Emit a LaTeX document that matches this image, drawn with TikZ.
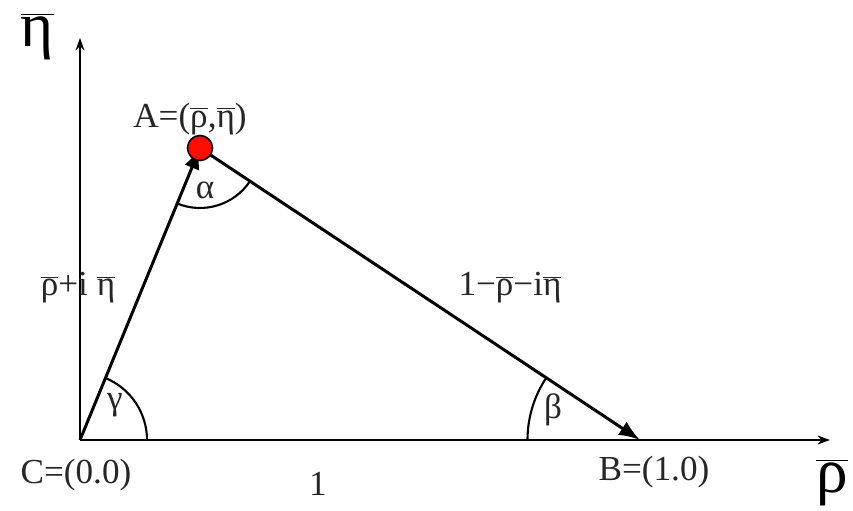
\documentclass[tikz,border=0pt]{standalone}
\usepackage{fontspec}
\setmainfont{Liberation Serif}
\usetikzlibrary{arrows.meta,angles}
\newcommand{\ob}[1]{$\overline{\mbox{#1}}$}

\begin{document}
\begin{tikzpicture}[
    axis/.style={line width=0.85pt, -{Stealth[length=7pt,width=5pt]}},
    side/.style={line width=1.7pt, -{Latex[length=12pt,width=9pt]}},
    lbl/.style={font=\fontsize{20}{22}\selectfont, text=black!85},
    big/.style={font=\fontsize{36}{40}\selectfont},
    arcs/.style={draw, line width=1.2pt}
  ]

\useasboundingbox (-1.6,-1.42) rectangle (15.46,8.8);

\coordinate (C) at (0,0);
\coordinate (A) at (2.4,5.84);
\coordinate (B) at (11.2,0);
\coordinate (xend) at (15.0,0);
\coordinate (yend) at (0,8.04);

\draw[axis] (C) -- (xend);
\draw[axis] (C) -- (yend);

\draw[side] (C) -- (A);
\draw[side] (A) -- (B);
\draw[line width=1.7pt] (C) -- (B);

\pic[arcs, angle radius=1.34cm] {angle = B--C--A};
\pic[arcs, angle radius=2.25cm] {angle = A--B--C};
\pic[arcs, angle radius=1.2cm] {angle = C--A--B};

\node (dot) at (A) [circle, draw, line width=0.9pt, fill=red!90!orange, minimum width=0.44cm, minimum height=0.5cm, inner sep=0pt] {};

\node (alabel) at (2.2,6.42) [lbl] {A=(\ob{ρ},\ob{η})};
\node (clabel) at (-0.08,-0.7) [lbl] {C=(0.0)};
\node (blabel) at (11.48,-0.64) [lbl] {B=(1.0)};
\node (one) at (4.76,-0.88) [lbl] {1};
\node (left) at (-0.04,3.04) [lbl] {\ob{ρ}+i \ob{η}};
\node (right) at (8.6,3.04) [lbl] {1−\ob{ρ}−i\ob{η}};

\node (alpha) at (2.5,5.0) [lbl] {α};
\node (gamma) at (0.7,0.7) [lbl] {γ};
\node (beta) at (9.46,0.6) [lbl] {β};

\node (eta) at (-0.85,8.06) [big] {\ob{η}};
\node (rho) at (15.04,-0.86) [big] {\ob{ρ}};

\end{tikzpicture}
\end{document}
